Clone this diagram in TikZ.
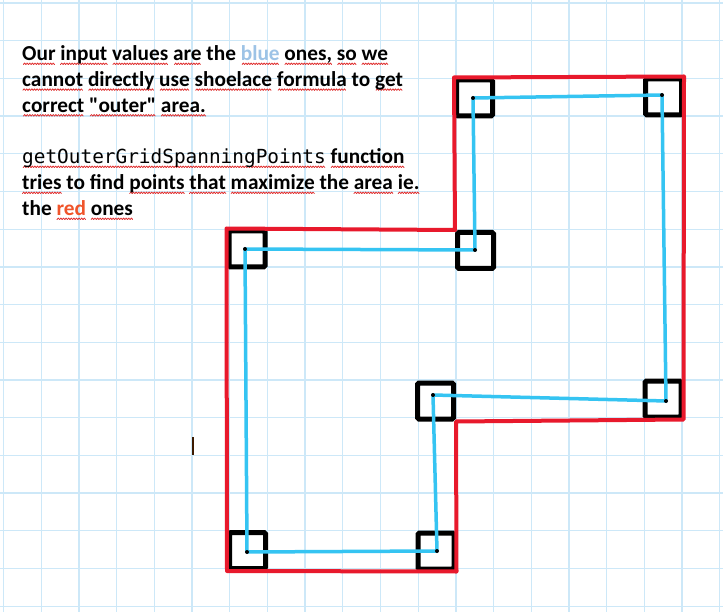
\documentclass[tikz,border=0pt]{standalone}
\usepackage{fontspec}
\setmainfont{Carlito}
\newfontfamily\codefont{DejaVu Sans Mono}
\newfontfamily\quotefont{Carlito}

\definecolor{gridblue}{HTML}{CDE8F8}
\definecolor{inkred}{HTML}{E8192C}
\definecolor{inkblue}{HTML}{35C4F2}
\definecolor{wordblue}{HTML}{9DC3E6}
\definecolor{wordred}{HTML}{F0542A}
\definecolor{spellred}{HTML}{E03030}
\definecolor{caret}{HTML}{3D1A00}

% spell-check squiggle under one word
\newsavebox\wavebit
\AtBeginDocument{\sbox\wavebit{\begin{pgfpicture}
  \pgfsetlinewidth{0.8pt}\pgfsetstrokecolor{spellred}\pgfsetroundcap
  \pgfpathmoveto{\pgfpoint{0pt}{0pt}}\pgfpathlineto{\pgfpoint{1.3pt}{1.4pt}}\pgfpathlineto{\pgfpoint{2.6pt}{0pt}}
  \pgfusepath{stroke}
  \pgfresetboundingbox
  \pgfpathrectangle{\pgfpoint{0pt}{0pt}}{\pgfpoint{2.6pt}{1.4pt}}\pgfusepath{use as bounding box}
  \end{pgfpicture}}}
\newcommand\sq[1]{\setbox0\hbox{#1}\rlap{\lower3.5pt\hbox to\wd0{\cleaders\copy\wavebit\hfill}}\box0\relax}
\newcommand\dq{{\quotefont\bfseries"}}

\tikzset{
  gridline/.style={draw=gridblue,line width=1.3pt},
  marker/.style={draw=black,line width=5pt,minimum size=36pt,inner sep=0pt,rounded corners=1.5pt},
  outer/.style={draw=inkred,line width=4pt,line join=round,line cap=round},
  input/.style={draw=inkblue,line width=3.5pt,line join=round,line cap=round},
  textline/.style={anchor=base west,inner sep=0pt,font=\bfseries\fontsize{21.3}{26}\selectfont},
}

\begin{document}
\begin{tikzpicture}[x=1pt,y=-1pt]
  \useasboundingbox (0,0) rectangle (723,612);
  \fill[white] (0,0) rectangle (723,612);
  \foreach \k in {0,...,19} \draw[gridline] ({3.5+37.7*\k},0) -- ({3.5+37.7*\k},612);
  \foreach \k in {0,...,16} \draw[gridline] (0,{3+37.7*\k}) -- (723,{3+37.7*\k});

  \node[textline] (line1) at (22,61) {\sq{Our} \sq{input} \sq{values} \sq{are} the \sq{\textcolor{wordblue}{blue}} \sq{ones,} \sq{so} \sq{we}};
  \node[textline] (line2) at (22,86.8) {\sq{cannot} \sq{directly} \sq{use} \sq{shoelace} \sq{formula} to \sq{get}};
  \node[textline] (line3) at (22,112.5) {\sq{correct} \sq{\dq outer\dq} \sq{area.}};
  \node[textline] (line4) at (22,164) {{\codefont\mdseries\fontsize{19.4}{26}\selectfont\sq{getOuterGridSpanningPoints}} \sq{function}};
  \node[textline] (line5) at (22,190) {\sq{tries} to find \sq{points} \sq{that} \sq{maximize} the \sq{area} \sq{ie.}};
  \node[textline] (line6) at (22,216) {the \sq{\textcolor{wordred}{red}} \sq{ones}};

  % black squares round the input points
  \node[marker] (s1) at (474.5,98) {};
  \node[marker] (s2) at (663.5,97) {};
  \node[marker] (s3) at (663,399) {};
  \node[marker] (s4) at (435.5,401) {};
  \node[marker] (s5) at (436,551) {};
  \node[marker] (s6) at (247.5,550.5) {};
  \node[marker] (s7) at (247,249) {};
  \node[marker] (s8) at (475.5,250.5) {};

  \coordinate (p1) at (473,98);
  \coordinate (p2) at (662,95);
  \coordinate (p3) at (666,401);
  \coordinate (p4) at (433,395);
  \coordinate (p5) at (437,551);
  \coordinate (p6) at (247,552);
  \coordinate (p7) at (245,249);
  \coordinate (p8) at (475,250);

  % outer (red) and input (blue) outlines
  \draw[outer] (s1.north west) -- (s2.north east) -- (s3.south east) -- (s4.south east)
    -- (s5.south east) -- (s6.south west) -- (s7.north west) -- (s8.north west) -- cycle;
  \draw[input] (p1) -- (p2) -- (p3) -- (p4) -- (p5) -- (p6) -- (p7) -- (p8) -- cycle;
  \foreach \p in {p1,p2,p3,p4,p5,p6,p7,p8} \fill (\p) circle (2pt);

  \draw[draw=caret,line width=2pt] (193,437) -- (193,455);
\end{tikzpicture}
\end{document}
